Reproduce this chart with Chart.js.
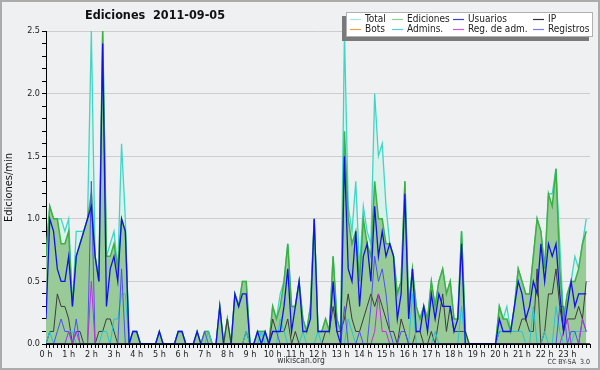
<!DOCTYPE html>
<html lang="es">
<head>
<meta charset="UTF-8">
<title>Ediciones 2011-09-05</title>
<script src="https://cdn.jsdelivr.net/npm/chart.js@4.4.0/dist/chart.umd.min.js"></script>
<style>
  html, body { margin: 0; padding: 0; background: #eff0f2; }
  canvas { display: block; }
</style>
</head>
<body>
<canvas id="chart" width="600" height="370"></canvas>
<script>
// one value every 10 minutes, 144 per day (edits per minute)
const hourLabels = ['0 h', '1 h', '2 h', '3 h', '4 h', '5 h', '6 h', '7 h', '8 h', '9 h', '10 h', '11 h',
  '12 h', '13 h', '14 h', '15 h', '16 h', '17 h', '18 h', '19 h', '20 h', '21 h', '22 h', '23 h'];

const total = [
  0.7,1.1,1.0,1.0,1.0,0.9,1.0,0.3,0.9,0.9,
  0.9,1.0,2.5,0.7,0.5,2.5,0.7,0.8,0.9,0.6,
  1.6,1.0,0,0.1,0.1,0,0,0,0,0,
  0.1,0,0,0,0,0.1,0.1,0,0,0,
  0.1,0,0.1,0.1,0,0,0.3,0,0.2,0,
  0.4,0.3,0.5,0.5,0,0,0.1,0.1,0.1,0,
  0.3,0.2,0.4,0.5,0.8,0.3,0.3,0.5,0.2,0.1,
  0.3,1.0,0.1,0.1,0.2,0.1,0.7,0.2,0.1,2.5,
  1.1,0.9,1.3,0.6,1.1,0.9,0.8,2.0,1.5,1.6,
  1.1,0.8,0.7,0.4,0.5,1.3,0.3,0.6,0.3,0.2,
  0.3,0.2,0.5,0.3,0.5,0.6,0.4,0.5,0.2,0.2,
  0.9,0.1,0,0,0,0,0,0,0,0,
  0.3,0.2,0.3,0.1,0.3,0.6,0.5,0.4,0.4,0.7,
  1.0,0.9,0.6,1.2,1.2,1.4,0.8,0.2,0.4,0.5,
  0.7,0.6,0.8,1.0];

const ediciones = [
  0.7,1.1,1.0,1.0,0.8,0.8,0.9,0.3,0.7,0.8,
  0.9,1.0,1.2,0.7,0.5,2.5,0.7,0.7,0.8,0.6,
  1.0,0.9,0,0.1,0.1,0,0,0,0,0,
  0.1,0,0,0,0,0.1,0.1,0,0,0,
  0.1,0,0.1,0.1,0,0,0.3,0,0.2,0,
  0.4,0.3,0.5,0.5,0,0,0.1,0.1,0.1,0,
  0.3,0.2,0.3,0.5,0.8,0.3,0.3,0.5,0.2,0.1,
  0.3,1.0,0.1,0.1,0.2,0.1,0.7,0.2,0.1,1.7,
  1.0,0.8,0.9,0.5,1.0,0.8,0.7,1.3,1.0,1.0,
  0.8,0.8,0.7,0.4,0.5,1.3,0.3,0.6,0.3,0.2,
  0.3,0.2,0.5,0.3,0.5,0.6,0.4,0.5,0.2,0.2,
  0.9,0.1,0,0,0,0,0,0,0,0,
  0.3,0.2,0.2,0.1,0.3,0.6,0.5,0.4,0.4,0.7,
  1.0,0.9,0.6,1.2,1.1,1.4,0.6,0.2,0.4,0.5,
  0.5,0.6,0.8,0.9];

const usuarios = [
  0.2,1.0,0.9,0.6,0.5,0.5,0.7,0.3,0.7,0.8,
  0.9,1.0,1.1,0.7,0.5,2.4,0.3,0.6,0.7,0.5,
  1.0,0.9,0,0.1,0.1,0,0,0,0,0,
  0.1,0,0,0,0,0.1,0.1,0,0,0,
  0.1,0,0,0,0,0,0.3,0,0,0,
  0.4,0.3,0.4,0.4,0,0,0.1,0,0.1,0,
  0.1,0.1,0.1,0.3,0.6,0.1,0.3,0.5,0.1,0.1,
  0.2,1.0,0.1,0.1,0.1,0.1,0.5,0.1,0,1.5,
  0.6,0.5,0.9,0.3,0.7,0.8,0.5,1.1,0.7,0.9,
  0.7,0.8,0.7,0.2,0.4,1.2,0.2,0.6,0.1,0.1,
  0.3,0.1,0.4,0.2,0.4,0.3,0.3,0.3,0.1,0.2,
  0.8,0,0,0,0,0,0,0,0,0,
  0.2,0.1,0.1,0.1,0.3,0.5,0.4,0.2,0.3,0.5,
  0.4,0.8,0.5,0.8,0.7,0.8,0.4,0.1,0.3,0.5,
  0.3,0.4,0.4,0.4];

const ip = [
  0,0.1,0.1,0.4,0.3,0.3,0.2,0,0.1,0.1,
  0,0,0,0,0.1,0.1,0.2,0.2,0.1,0,
  0,0,0,0,0,0,0,0,0,0,
  0,0,0,0,0,0,0,0,0,0,
  0,0,0,0,0,0,0,0,0.2,0,
  0,0,0,0.1,0,0,0,0,0,0,
  0.2,0.1,0.1,0.1,0.2,0,0.1,0,0,0,
  0,0,0,0,0.1,0.1,0.3,0.1,0.1,0.2,
  0.4,0.2,0.1,0.1,0.2,0.3,0.4,0.3,0.4,0.3,
  0.2,0.1,0.1,0,0.2,0.1,0,0,0.1,0.1,
  0,0,0.1,0,0.2,0.4,0.1,0.3,0.1,0.1,
  0.1,0.1,0,0,0,0,0,0,0,0,
  0.1,0.1,0.1,0.1,0.1,0.1,0.2,0.2,0.1,0.1,
  0.6,0,0.1,0.4,0.4,0.6,0.3,0.1,0.2,0.2,
  0.2,0.3,0.2,0.5];

const bots = []; // no bot edits that day

const admins = [
  0,0.1,0,0,0,0,0.1,0.1,0,0,
  0,0,0,0,0,0.1,0.1,0,0.2,0.2,
  0.4,0.4,0,0,0,0,0,0,0,0,
  0,0,0,0,0,0,0,0,0,0,
  0,0,0,0.1,0,0,0,0,0,0,
  0,0,0,0.1,0,0,0,0.1,0,0,
  0,0,0.2,0.1,0,0,0,0,0.1,0,
  0,0,0.1,0,0,0,0,0,0,0,
  0.2,0.1,0,0,0,0,0,0,0,0,
  0,0,0,0,0,0,0,0.4,0,0,
  0,0,0,0.1,0,0,0,0,0,0,
  0.3,0,0,0,0,0,0,0,0,0,
  0.1,0.1,0.1,0.1,0.1,0.1,0.1,0,0,0.3,
  0,0,0.1,0,0,0.3,0.1,0,0,0,
  0.1,0.1,0.1,0.1];

const regAdm = [
  0,0,0,0,0,0,0.1,0,0.1,0,
  0,0,0.5,0,0,0,0,0,0,0,
  0,0,0,0,0,0,0,0,0,0,
  0,0,0,0,0,0,0,0,0,0,
  0,0,0,0,0,0,0,0,0,0,
  0,0,0,0,0,0,0,0,0,0,
  0,0,0,0,0,0,0,0,0,0,
  0,0,0,0,0,0,0,0,0,0,
  0,0,0,0,0,0,0,0.1,0.4,0.1,
  0.1,0,0,0,0,0,0,0,0,0,
  0,0,0,0,0,0,0,0,0,0,
  0,0,0,0,0,0,0,0,0,0,
  0,0,0,0,0,0,0,0,0,0,
  0,0,0,0,0,0,0,0.1,0.2,0,
  0,0,0.2,0.1];

const registros = [
  0,0,0,0.1,0.2,0.1,0.1,0,0.2,0,
  0,0,1.3,0,0,0,0,0,0,0,
  0.6,0,0,0,0,0,0,0,0,0,
  0,0,0,0,0,0,0,0,0,0,
  0,0,0.1,0,0,0,0,0,0,0,
  0,0,0,0,0,0,0,0,0,0,
  0.1,0.1,0,0,0,0,0,0,0,0,
  0,0,0,0,0,0,0,0,0,0.3,
  0,0,0,0.1,0,0,0.3,0.7,0.5,0.6,
  0.4,0.1,0,0,0.1,0.1,0,0,0,0,
  0,0,0,0,0,0,0,0,0,0,
  0,0,0,0,0,0,0,0,0,0,
  0,0,0,0,0,0,0,0,0,0,
  0,0,0,0,0,0,0.3,0.3,0,0.1,
  0.1,0,0.2,0.1];

const COND = "'DejaVu Sans Condensed', 'Liberation Sans', sans-serif";

function pts(arr) {
  return arr.map((v, i) => ({ x: i, y: v }));
}

function line(label, data, color, legendColor, order, width, extra) {
  return Object.assign({
    label: label,
    data: pts(data),
    borderColor: color,
    borderWidth: width,
    pointRadius: 0,
    tension: 0,
    fill: false,
    order: order,
    legendColor: legendColor
  }, extra || {});
}

// legend order as in the reference: row 1 then row 2
const datasets = [
  line('Total', total, '#3fd6c6', '#a6e6dc', 10, 1.3, { fill: 'origin', backgroundColor: '#daf2eb' }),
  line('Ediciones', ediciones, '#3bb043', '#8fd08f', 9, 1.5, { fill: 'origin', backgroundColor: '#99cb99' }),
  line('Usuarios', usuarios, '#1212e6', '#3b3be0', 1, 1.3),
  line('IP', ip, '#3c3c3c', '#333333', 6, 1),
  line('Bots', bots, '#f0a030', '#f0a040', 7, 1),
  line('Admins.', admins, '#22c6d8', '#55cde0', 5, 1),
  line('Reg. de adm.', regAdm, '#c22ee0', '#d055e0', 3, 1),
  line('Registros', registros, '#4f4ff2', '#7b7bef', 4, 1)
];

const isHalf = v => Math.abs(v * 2 - Math.round(v * 2)) < 1e-6;

const decor = {
  id: 'decor',
  beforeDraw(chart) {
    const ctx = chart.ctx;
    ctx.save();
    ctx.fillStyle = '#eff0f2';
    ctx.fillRect(0, 0, chart.width, chart.height);
    ctx.restore();
  },
  afterDatasetsDraw(chart) {
    // zero values should sit under the black axis line
    const { ctx, chartArea: a } = chart;
    ctx.save();
    ctx.strokeStyle = '#000';
    ctx.lineWidth = 1.5;
    ctx.beginPath();
    ctx.moveTo(a.left, a.bottom);
    ctx.lineTo(a.right, a.bottom);
    ctx.stroke();
    ctx.restore();
  },
  afterDraw(chart) {
    const ctx = chart.ctx;
    ctx.save();

    // title
    ctx.fillStyle = '#111';
    ctx.font = "bold 12.5px " + COND;
    ctx.textAlign = 'center';
    ctx.textBaseline = 'middle';
    ctx.fillText('Ediciones  2011-09-05', 155, 16);

    // legend box with shadow
    ctx.fillStyle = '#7a7a7a';
    ctx.fillRect(342, 16, 247, 25);
    ctx.fillStyle = '#ffffff';
    ctx.fillRect(346, 12, 247, 25);
    ctx.strokeStyle = '#b0b0b0';
    ctx.lineWidth = 1;
    ctx.strokeRect(346.5, 12.5, 246, 24);

    const colX = [350, 392, 453, 533];
    const rowY = [19, 29];
    ctx.font = "10px " + COND;
    ctx.textAlign = 'left';
    chart.data.datasets.forEach((ds, i) => {
      const x = colX[i % 4];
      const y = rowY[Math.floor(i / 4)];
      ctx.strokeStyle = ds.legendColor;
      ctx.lineWidth = 1.2;
      ctx.beginPath();
      ctx.moveTo(x, y + 0.5);
      ctx.lineTo(x + 11, y + 0.5);
      ctx.stroke();
      ctx.fillStyle = '#222';
      ctx.fillText(ds.label, x + 15, y);
    });

    // footer
    ctx.fillStyle = '#333';
    ctx.font = "8.5px " + COND;
    ctx.textAlign = 'center';
    ctx.fillText('wikiscan.org', 301, 361);
    ctx.font = "7px " + COND;
    ctx.textAlign = 'right';
    ctx.fillText('CC BY-SA  3.0', 590, 362);

    // outer frame
    ctx.strokeStyle = '#ababab';
    ctx.lineWidth = 2;
    ctx.strokeRect(1, 1, 598, 368);
    ctx.restore();
  }
};

new Chart(document.getElementById('chart'), {
  type: 'line',
  data: { datasets: datasets },
  options: {
    responsive: false,
    animation: false,
    devicePixelRatio: 1,
    layout: { padding: { left: 0, top: 31, right: 10, bottom: 0 } },
    plugins: {
      legend: { display: false },
      tooltip: { enabled: false }
    },
    scales: {
      x: {
        type: 'linear',
        min: 0,
        max: 144,
        grid: { drawOnChartArea: false, tickLength: 4, tickColor: '#000', color: '#000' },
        border: { color: '#000', width: 1 },
        ticks: {
          stepSize: 1,
          maxTicksLimit: 1000,
          autoSkip: false,
          maxRotation: 0,
          minRotation: 0,
          padding: 1,
          color: '#222',
          font: { family: COND, size: 9 },
          callback: v => (v % 6 === 0 && v < 144) ? hourLabels[v / 6] : ''
        },
        afterFit: s => { s.height = 26; }
      },
      y: {
        min: 0,
        max: 2.5,
        grid: {
          color: c => (c.tick && isHalf(c.tick.value) && c.tick.value > 0) ? '#cdcdcd' : 'rgba(0,0,0,0)',
          tickColor: '#000',
          tickLength: 4
        },
        border: { color: '#000', width: 1 },
        ticks: {
          stepSize: 0.1,
          maxTicksLimit: 100,
          autoSkip: false,
          padding: 2,
          color: '#222',
          font: { family: COND, size: 9 },
          callback: v => isHalf(v) ? v.toFixed(1) : ''
        },
        title: {
          display: true,
          text: 'Ediciones/min',
          color: '#111',
          font: { family: COND, size: 11 },
          padding: { top: 3, bottom: 0 }
        },
        afterFit: s => { s.width = 46; }
      }
    }
  },
  plugins: [decor]
});
</script>
</body>
</html>
